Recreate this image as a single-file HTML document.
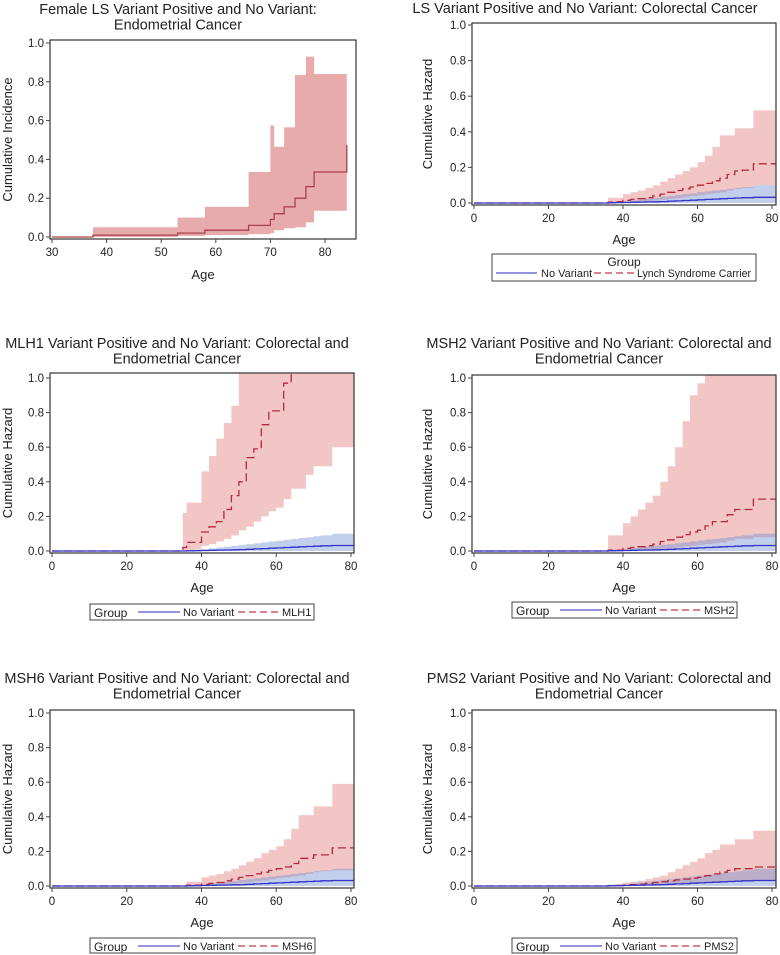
<!DOCTYPE html>
<html><head><meta charset="utf-8">
<style>
body{margin:0;background:#fff;}
svg{display:block;font-family:"Liberation Sans",Arial,sans-serif;}
</style></head>
<body>
<svg id="fig" width="780" height="955" viewBox="0 0 780 955"></svg>
<script>
// ---------- data ----------
// Panel 1: Female LS endometrial cancer (cumulative incidence)
const p1Ages = [30,37.5,53,58,66,70,70.7,72.5,74.5,76.5,78,84];
const p1Est  = [0,0.01,0.02,0.035,0.06,0.09,0.12,0.155,0.2,0.26,0.335,0.475];
const p1Hi   = [0,0.05,0.10,0.155,0.335,0.575,0.465,0.565,0.835,0.93,0.84];
const p1Lo   = [0,0,0.005,0.01,0.015,0.02,0.035,0.045,0.05,0.075,0.135];
// Common age grid for panels 2-6 (step starts; last step runs to 81)
const ages = [0,35,36,38,40,42,44,46,48,50,52,54,56,58,60,62,64,66,68,70,72,75];
// No Variant group
const nvEst = [0,0,0.001,0.002,0.003,0.004,0.005,0.006,0.007,0.008,0.01,0.012,0.014,0.016,0.018,0.02,0.022,0.024,0.026,0.028,0.03,0.032];
const nvHi  = [0,0,0.005,0.008,0.01,0.015,0.02,0.025,0.03,0.035,0.04,0.045,0.05,0.055,0.06,0.065,0.07,0.075,0.08,0.085,0.09,0.1];
const nvLo  = [0,0,0,0,0,0,0,0,0,0,0,0,0,0,0,0,0,0,0,0,0,0];
// Lynch syndrome carrier (colorectal)
const lsEst = [0,0,0.005,0.008,0.015,0.02,0.025,0.03,0.04,0.05,0.06,0.07,0.08,0.09,0.1,0.11,0.125,0.14,0.16,0.18,0.185,0.22];
const lsHi  = [0,0,0.03,0.03,0.05,0.06,0.07,0.085,0.1,0.12,0.14,0.16,0.18,0.2,0.23,0.265,0.315,0.38,0.38,0.42,0.42,0.52];
const lsLo  = [0,0,0,0,0.002,0.004,0.006,0.01,0.014,0.018,0.022,0.027,0.032,0.038,0.045,0.05,0.055,0.06,0.07,0.08,0.085,0.1];
// MLH1
const mlh1Est = [0,0.02,0.05,0.05,0.11,0.14,0.17,0.24,0.32,0.4,0.54,0.59,0.73,0.81,0.81,0.97,1.05,1.05,1.05,1.05,1.05,1.05];
const mlh1Hi  = [0,0.22,0.28,0.28,0.46,0.55,0.65,0.74,0.84,1.05,1.05,1.05,1.05,1.05,1.05,1.05,1.05,1.05,1.05,1.05,1.05,1.05];
const mlh1Lo  = [0,0,0.005,0.01,0.03,0.04,0.055,0.07,0.09,0.12,0.14,0.17,0.2,0.23,0.25,0.3,0.36,0.36,0.44,0.49,0.49,0.6];
// MSH2
const msh2Est = [0,0,0.005,0.005,0.015,0.02,0.025,0.03,0.04,0.055,0.065,0.08,0.095,0.11,0.12,0.145,0.17,0.17,0.21,0.24,0.24,0.3];
const msh2Hi  = [0,0,0.09,0.09,0.16,0.2,0.24,0.28,0.32,0.4,0.49,0.6,0.75,0.9,0.97,1.05,1.05,1.05,1.05,1.05,1.05,1.05];
const msh2Lo  = [0,0,0,0,0.002,0.004,0.006,0.008,0.01,0.014,0.018,0.022,0.026,0.03,0.035,0.04,0.045,0.05,0.06,0.07,0.07,0.08];
// MSH6
const msh6Est = [0,0,0.005,0.005,0.01,0.015,0.02,0.03,0.04,0.05,0.06,0.07,0.08,0.09,0.1,0.11,0.13,0.16,0.16,0.18,0.18,0.22];
const msh6Hi  = [0,0,0.025,0.025,0.05,0.06,0.07,0.085,0.1,0.12,0.14,0.16,0.19,0.21,0.23,0.27,0.33,0.41,0.41,0.46,0.46,0.59];
const msh6Lo  = [0,0,0,0,0.002,0.004,0.006,0.01,0.014,0.018,0.022,0.027,0.032,0.038,0.045,0.05,0.055,0.06,0.07,0.08,0.085,0.09];
// PMS2
const pms2Est = [0,0,0.002,0.003,0.005,0.008,0.01,0.015,0.02,0.025,0.03,0.035,0.04,0.045,0.05,0.06,0.07,0.08,0.09,0.1,0.1,0.11];
const pms2Hi  = [0,0,0.008,0.01,0.02,0.025,0.03,0.04,0.05,0.06,0.08,0.1,0.12,0.14,0.16,0.19,0.21,0.24,0.24,0.27,0.27,0.32];
const pms2Lo  = [0,0,0,0,0.001,0.002,0.003,0.004,0.005,0.006,0.008,0.01,0.012,0.014,0.016,0.018,0.02,0.022,0.024,0.026,0.028,0.03];
const yTicks = [0,0.2,0.4,0.6,0.8,1.0];
const xTicksP1 = [30,40,50,60,70,80];
const xTicksAge = [0,20,40,60,80];

// ---------- drawing ----------
const NS = "http://www.w3.org/2000/svg";
const svg = document.getElementById('fig');
function mk(tag, attrs, parent){
  const e = document.createElementNS(NS, tag);
  for (const k in attrs) e.setAttribute(k, attrs[k]);
  (parent||svg).appendChild(e);
  return e;
}
function txt(parent, x, y, s, size, anchor, extra){
  const t = mk('text', Object.assign({x:x, y:y, 'font-size':size, 'text-anchor':anchor||'middle', fill:'#222'}, extra||{}), parent);
  t.textContent = s;
  return t;
}
function stepPath(xs, vals, xEnd, sx, sy){
  let d = '';
  for (let i=0;i<vals.length;i++){
    const x0 = sx(xs[i]), x1 = sx(i+1<xs.length && i+1<vals.length ? xs[i+1] : xEnd);
    const y = sy(Math.min(vals[i],1.05));
    d += (i===0?'M':'L') + x0.toFixed(1)+','+y.toFixed(1)+' L'+x1.toFixed(1)+','+y.toFixed(1)+' ';
  }
  return d;
}
function bandPath(xs, lo, hi, xEnd, sx, sy){
  let top = [], bot = [];
  for (let i=0;i<hi.length;i++){
    const x0 = sx(xs[i]), x1 = sx(i+1<hi.length ? xs[i+1] : xEnd);
    top.push([x0, sy(Math.min(hi[i],1.05))],[x1, sy(Math.min(hi[i],1.05))]);
    bot.push([x0, sy(lo[i])],[x1, sy(lo[i])]);
  }
  bot.reverse();
  return 'M' + top.concat(bot).map(p=>p[0].toFixed(1)+','+p[1].toFixed(1)).join(' L') + ' Z';
}

function panel(cfg){
  const g = mk('g', {});
  
  
  const F = cfg.frame; // [left, top, right, bottom]
  const sx = v => cfg.px0 + (v - cfg.x0) * (cfg.px1 - cfg.px0) / (cfg.x1 - cfg.x0);
  const sy = v => cfg.py0 + v * (cfg.py1 - cfg.py0);
  cfg.title.forEach((line, i) => {
    const t = txt(g, cfg.titleX, cfg.titleY + i*15.5, line, 14.5);
    
    
  });
  const clipId = 'clip-' + cfg.name;
  const cp = mk('clipPath', {id: clipId}, g);
  mk('rect', {x:F[0], y:F[1], width:F[2]-F[0], height:F[3]-F[1]}, cp);
  const plot = mk('g', {'clip-path':'url(#'+clipId+')'}, g);
  
  
  cfg.series.forEach(s => {
    const b = mk('path', {d: bandPath(s.x, s.lo, s.hi, s.xEnd, sx, sy), fill: s.band, stroke:'none'}, plot);
    
    
  });
  cfg.series.forEach(s => {
    const l = mk('path', {d: stepPath(s.x, s.est, s.xEnd, sx, sy), fill:'none', stroke: s.color, 'stroke-width': 1.3, 'stroke-dasharray': s.dash || 'none'}, plot);
    
    
  });
  const fr = mk('rect', {x:F[0], y:F[1], width:F[2]-F[0], height:F[3]-F[1], fill:'none', stroke:'#333', 'stroke-width':1.2}, g);
  
  
  yTicks.forEach(v => {
    const y = sy(v);
    mk('line', {x1:F[0]-4, x2:F[0], y1:y, y2:y, stroke:'#444'}, g);
    const t = txt(g, F[0]-6, y+4, v.toFixed(1), 11.5, 'end');
    
    
  });
  cfg.xTicks.forEach(v => {
    const x = sx(v);
    mk('line', {x1:x, x2:x, y1:F[3], y2:F[3]+4, stroke:'#444'}, g);
    const t = txt(g, x, F[3]+17, String(v), 11.5);
    
    
  });
  const xl = txt(g, (F[0]+F[2])/2, cfg.ageY, 'Age', 13);
  
  
  const yl = txt(g, 0, 0, cfg.yLabel, 13, 'middle', {transform:'translate('+cfg.yLabelX+','+((F[1]+F[3])/2)+') rotate(-90)'});
  
  
  if (cfg.legend){
    const L = cfg.legend;
    const lg = mk('g', {}, g);
    
    
    mk('rect', {x:L.x, y:L.y, width:L.w, height:L.h, fill:'#fff', stroke:'#444'}, lg);
    if (L.twoLine){
      txt(lg, L.x+L.w/2, L.y+12, 'Group', 12);
      const yy = L.y+23;
      mk('line', {x1:L.x+4, x2:L.x+45, y1:yy-4, y2:yy-4, stroke:'#5555cc', 'stroke-width':1.3}, lg);
      txt(lg, L.x+49, yy, 'No Variant', 11, 'start');
      mk('line', {x1:L.x+102, x2:L.x+142, y1:yy-4, y2:yy-4, stroke:'#c0394a', 'stroke-width':1.3, 'stroke-dasharray':'7,4'}, lg);
      txt(lg, L.x+145, yy, L.label, 11, 'start', {textLength:114, lengthAdjust:'spacingAndGlyphs'});
    } else {
      const yy = L.y+12;
      txt(lg, L.x+4, yy+1, 'Group', 12, 'start');
      mk('line', {x1:L.x+48, x2:L.x+90, y1:yy-4, y2:yy-4, stroke:'#5555cc', 'stroke-width':1.3}, lg);
      txt(lg, L.x+93, yy, 'No Variant', 11, 'start');
      mk('line', {x1:L.x+148, x2:L.x+188, y1:yy-4, y2:yy-4, stroke:'#c0394a', 'stroke-width':1.3, 'stroke-dasharray':'7,4'}, lg);
      txt(lg, L.x+192, yy, L.label, 11, 'start');
    }
  }
}

const PINK = 'rgba(222,120,116,0.42)';
const BLUE = 'rgba(110,140,210,0.42)';
function nvSeries(){ return {key:'no-variant', x:ages, est:nvEst, lo:nvLo, hi:nvHi, xEnd:81.5, band:BLUE, color:'#3333cc'}; }
function varSeries(key, est, lo, hi){ return {key:key, x:ages, est:est, lo:lo, hi:hi, xEnd:81.5, band:PINK, color:'#b5293c', dash:'8,4'}; }

panel({name:'panel-endometrial-ls', frame:[50,40,356,239], x0:30, x1:80, px0:52, px1:325, py0:237, py1:43,
  title:['Female LS Variant Positive and No Variant:','Endometrial Cancer'], titleX:178, titleY:14,
  xTicks:xTicksP1, ageY:279, yLabel:'Cumulative Incidence', yLabelX:12,
  series:[{key:'ls-variant', x:p1Ages, est:p1Est, lo:p1Lo, hi:p1Hi, xEnd:84, band:'#e8abab', color:'#a8404a'}]});
panel({name:'panel-colorectal-ls', frame:[472,23,776,205], x0:0, x1:80, px0:474, px1:772, py0:203, py1:25,
  title:['LS Variant Positive and No Variant: Colorectal Cancer'], titleX:585, titleY:13,
  xTicks:xTicksAge, ageY:244, yLabel:'Cumulative Hazard', yLabelX:432,
  series:[varSeries('lynch-carrier', lsEst, lsLo, lsHi), nvSeries()],
  legend:{x:492, y:254, w:264, h:27, twoLine:true, label:'Lynch Syndrome Carrier'}});
panel({name:'panel-mlh1', frame:[50,373,354,553], x0:0, x1:80, px0:52, px1:351, py0:551, py1:378,
  title:['MLH1 Variant Positive and No Variant: Colorectal and','Endometrial Cancer'], titleX:177, titleY:348,
  xTicks:xTicksAge, ageY:592, yLabel:'Cumulative Hazard', yLabelX:12,
  series:[varSeries('mlh1', mlh1Est, mlh1Lo, mlh1Hi), nvSeries()],
  legend:{x:90, y:604, w:224, h:16, label:'MLH1'}});
panel({name:'panel-msh2', frame:[472,375,776,553], x0:0, x1:80, px0:474, px1:772, py0:551, py1:378,
  title:['MSH2 Variant Positive and No Variant: Colorectal and','Endometrial Cancer'], titleX:599, titleY:348,
  xTicks:xTicksAge, ageY:592, yLabel:'Cumulative Hazard', yLabelX:432,
  series:[varSeries('msh2', msh2Est, msh2Lo, msh2Hi), nvSeries()],
  legend:{x:512, y:602, w:225, h:16, label:'MSH2'}});
panel({name:'panel-msh6', frame:[50,710,354,888], x0:0, x1:80, px0:52, px1:351, py0:886, py1:713,
  title:['MSH6 Variant Positive and No Variant: Colorectal and','Endometrial Cancer'], titleX:177, titleY:683,
  xTicks:xTicksAge, ageY:927, yLabel:'Cumulative Hazard', yLabelX:12,
  series:[varSeries('msh6', msh6Est, msh6Lo, msh6Hi), nvSeries()],
  legend:{x:90, y:938, w:225, h:15, label:'MSH6'}});
panel({name:'panel-pms2', frame:[472,710,776,888], x0:0, x1:80, px0:474, px1:772, py0:886, py1:713,
  title:['PMS2 Variant Positive and No Variant: Colorectal and','Endometrial Cancer'], titleX:599, titleY:683,
  xTicks:xTicksAge, ageY:927, yLabel:'Cumulative Hazard', yLabelX:432,
  series:[varSeries('pms2', pms2Est, pms2Lo, pms2Hi), nvSeries()],
  legend:{x:512, y:938, w:225, h:15, label:'PMS2'}});
</script>
</body></html>
